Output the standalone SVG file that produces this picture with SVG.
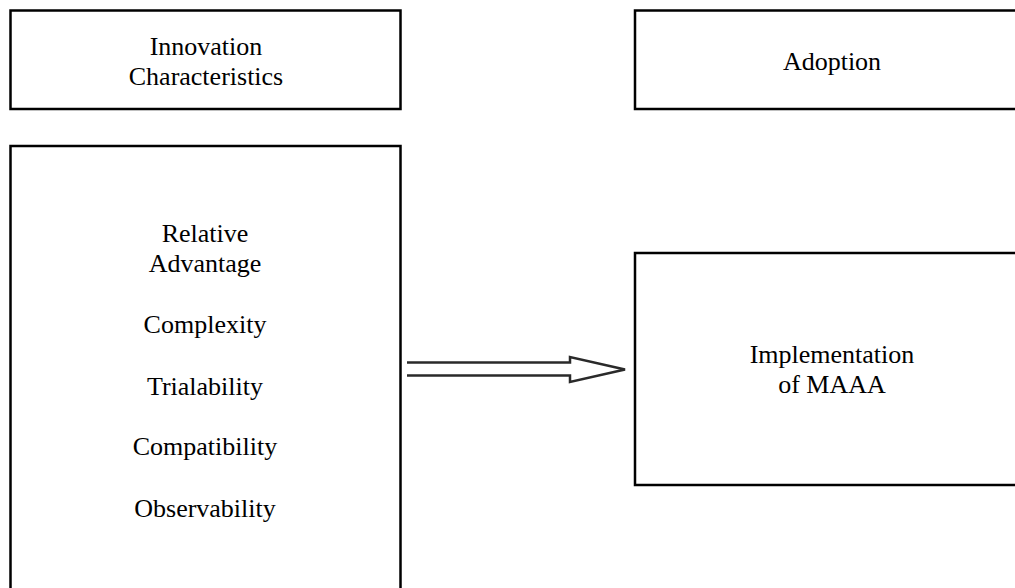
<svg xmlns="http://www.w3.org/2000/svg" width="1015" height="588" viewBox="0 0 1015 588">
  <style>
    .box { fill: #ffffff; stroke: #000000; stroke-width: 2.5; }
    .lbl { font-family: "Liberation Serif", "Times New Roman", serif; font-size: 26px; fill: #000000; text-anchor: middle; }
    .arrow { fill: #ffffff; stroke: #2a2a2a; stroke-width: 2.5; stroke-linejoin: miter; }
  </style>
  <rect width="1015" height="588" fill="#ffffff"/>
  <g id="node-innovation-characteristics">
    <rect class="box" x="10.5" y="10.5" width="390" height="98.5"/>
    <text class="lbl" x="206" y="55">Innovation</text>
    <text class="lbl" x="206" y="85">Characteristics</text>
  </g>
  <g id="node-adoption">
    <rect class="box" x="635" y="10.5" width="400" height="98.5"/>
    <text class="lbl" x="832" y="70">Adoption</text>
  </g>
  <g id="node-characteristics-list">
    <rect class="box" x="10.5" y="146" width="390" height="460"/>
    <text class="lbl" x="205" y="242">Relative</text>
    <text class="lbl" x="205" y="272">Advantage</text>
    <text class="lbl" x="205" y="333">Complexity</text>
    <text class="lbl" x="205" y="395">Trialability</text>
    <text class="lbl" x="205" y="455">Compatibility</text>
    <text class="lbl" x="205" y="517">Observability</text>
  </g>
  <g id="node-implementation">
    <rect class="box" x="635" y="253" width="400" height="232"/>
    <text class="lbl" x="832" y="363">Implementation</text>
    <text class="lbl" x="832" y="393">of MAAA</text>
  </g>
  <g id="connectors">
    <path class="arrow" d="M407,362.5 H570 V357 L625,369.5 L570,382 V375.5 H407"/>
  </g>
</svg>
